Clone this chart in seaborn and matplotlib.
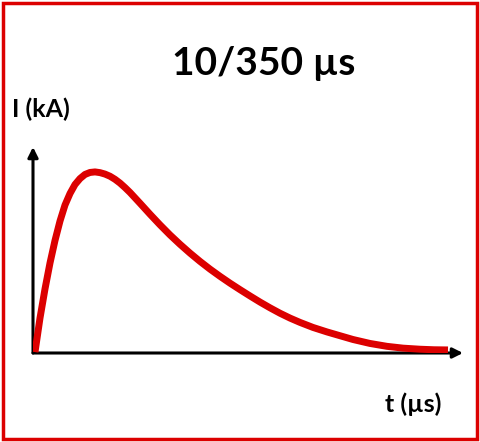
import seaborn as sns
import matplotlib
matplotlib.use("Agg")
import matplotlib.pyplot as plt
from matplotlib.patches import Rectangle

# 10/350 us impulse current (arbitrary units, peak = 100)
t_us = [4, 14, 24, 34, 44, 54, 64, 74, 84, 94, 104, 114, 124, 134, 144, 154,
        164, 174, 184, 194, 214, 234, 254, 274, 294, 314, 334, 354, 374, 394,
        414, 434, 454, 474, 494, 514, 534, 560, 588, 614, 640, 674, 708, 740,
        774, 802, 830]
current_ka = [0.5, 19.4, 35.6, 50, 62.5, 73.3, 82.2, 88.6, 93.6, 96.9, 99.2,
              100.3, 100.6, 100.2, 99.4, 98.2, 96.5, 94.4, 91.9, 89.2, 83.2,
              77.1, 71.2, 65.6, 60.4, 55.5, 50.9, 46.6, 42.6, 38.8, 35.2, 31.7,
              28.3, 25.1, 22.1, 19.4, 17.0, 14.2, 11.7, 9.6, 7.5, 5.3, 3.7,
              2.7, 2.1, 1.8, 1.7]

title = "10/350 µs"
ylabel = "I (kA)"
xlabel = "t (µs)"
red = "#DC0000"

sns.set_style("white")
plt.rcParams["font.family"] = ["Lato", "DejaVu Sans"]

W, H = 480, 442
fig = plt.figure(figsize=(W / 100, H / 100), dpi=100)

# axes: origin at (33, 353) px, arrow tips at x=463 / y=147
x0, y0, x1, y1 = 33, 353, 463, 147
ax = fig.add_axes([x0 / W, 1 - y0 / H, (x1 - x0) / W, (y0 - y1) / H])
ax.set_xlim(0, (x1 - x0) * 2)
ax.set_ylim(0, (y0 - y1) / 180 * 100)
for s in ax.spines.values():
    s.set_visible(False)
ax.set_xticks([])
ax.set_yticks([])

arrow = dict(arrowstyle="-|>,head_length=0.6,head_width=0.3", lw=2.2,
             color="black", shrinkA=0, shrinkB=0)
ax.annotate("", xy=(1, 0), xytext=(0, 0), xycoords="axes fraction",
            arrowprops=arrow, annotation_clip=False)
ax.annotate("", xy=(0, 1), xytext=(0, 0), xycoords="axes fraction",
            arrowprops=arrow, annotation_clip=False)

sns.lineplot(x=t_us, y=current_ka, ax=ax, color=red, lw=5, zorder=3,
             solid_capstyle="butt", solid_joinstyle="round")
ax.set_xlabel("")
ax.set_ylabel("")

fig.text(264 / W, 1 - 75 / H, title, ha="center", va="baseline",
         fontsize=28, fontweight="bold", color="black")
fig.text(12 / W, 1 - 117 / H, ylabel, ha="left", va="baseline",
         fontsize=18, fontweight="bold", color="black")
fig.text(385 / W, 1 - 412 / H, xlabel, ha="left", va="baseline",
         fontsize=18, fontweight="bold", color="black")

# red frame around the whole picture
fig.patches.append(Rectangle((3 / W, 3 / H), 1 - 6 / W, 1 - 6 / H,
                             transform=fig.transFigure, fill=False,
                             edgecolor=red, lw=2.5))

fig.savefig("out.png", dpi=100)
